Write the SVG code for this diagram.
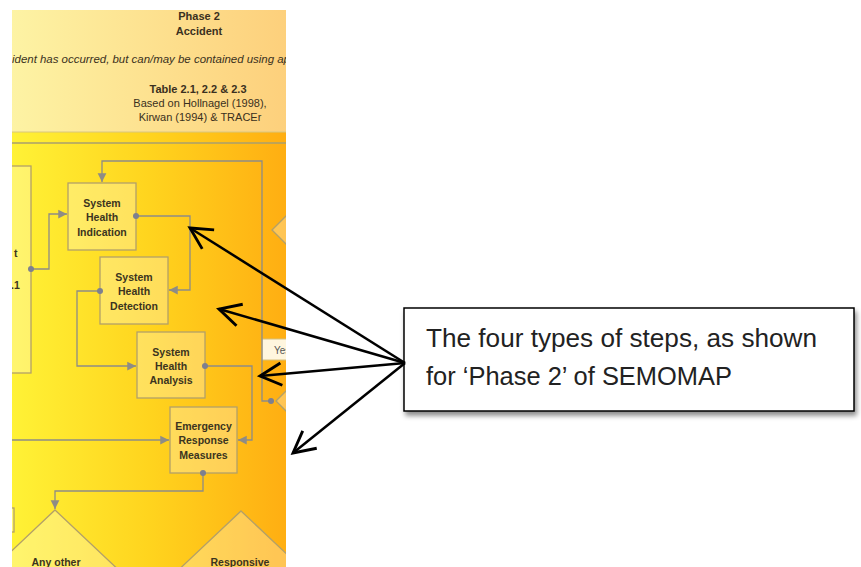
<svg xmlns="http://www.w3.org/2000/svg" width="861" height="567" viewBox="0 0 861 567">
<style>
.node rect,.node polygon{fill:#ffffff;fill-opacity:0.28;stroke:#b3a068;stroke-width:1.3}
.lbl{font-family:"Liberation Sans",Arial,sans-serif;font-weight:bold;font-size:10.5px;fill:#3b3420;text-anchor:middle}
.conn path{fill:none;stroke:#8e8c86;stroke-width:1.3}
.conn circle{fill:#7d8090}
.hdr{font-family:"Liberation Sans",Arial,sans-serif;text-anchor:middle;fill:#3a3020}
.call path{fill:none;stroke:#000;stroke-width:2.5}
.ctext{font-family:"Liberation Sans",Arial,sans-serif;font-size:25px;fill:#222}
</style>
<defs>
<linearGradient id="bodyG" gradientUnits="userSpaceOnUse" x1="12" y1="0" x2="286" y2="0">
<stop offset="0" stop-color="#fff236"/>
<stop offset="0.5" stop-color="#ffd41e"/>
<stop offset="1" stop-color="#ffae12"/>
</linearGradient>
<linearGradient id="hdrG" gradientUnits="userSpaceOnUse" x1="12" y1="0" x2="286" y2="0">
<stop offset="0" stop-color="#fdf3a4"/>
<stop offset="1" stop-color="#fdd07c"/>
</linearGradient>
<clipPath id="panel"><rect x="12" y="10" width="274" height="557"/></clipPath>
<marker id="ga" markerUnits="userSpaceOnUse" markerWidth="10" markerHeight="10" viewBox="-8 -4 8 8" refX="0" refY="0" orient="auto">
<path d="M0,0 L-7,-3.5 L-7,3.5 z" fill="#8e8c86"/>
</marker>
<marker id="ba" markerUnits="userSpaceOnUse" markerWidth="30" markerHeight="30" viewBox="-22 -13 24 26" refX="0" refY="0" orient="auto">
<path d="M-18.6,-9.7 L0,0 L-18.6,9.7" fill="none" stroke="#000" stroke-width="2.5" stroke-linejoin="miter"/>
</marker>
<filter id="sh" x="-5%" y="-10%" width="115%" height="135%">
<feDropShadow dx="2" dy="4" stdDeviation="2.5" flood-color="#000" flood-opacity="0.45"/>
</filter>
</defs>
<rect width="861" height="567" fill="#ffffff"/>
<g clip-path="url(#panel)">
<rect x="12" y="10" width="274" height="557" fill="url(#bodyG)"/>
<rect x="12" y="10" width="274" height="122" fill="url(#hdrG)"/>
<line x1="12" y1="132" x2="286" y2="132" stroke="#d8c680" stroke-width="1"/>
<line x1="12" y1="143" x2="286" y2="143" stroke="#a89f6e" stroke-width="1.3"/>
<g id="header">
<text class="hdr" x="199" y="20" font-size="11" font-weight="bold">Phase 2</text>
<text class="hdr" x="199" y="35" font-size="11" font-weight="bold">Accident</text>
<text x="12" y="63" font-family="Liberation Sans,Arial,sans-serif" font-style="italic" font-size="10.5" fill="#3a3020" textLength="278" lengthAdjust="spacingAndGlyphs">ident has  occurred, but can/may be contained using ap</text>
<text class="hdr" x="198" y="93" font-size="11" font-weight="bold">Table 2.1, 2.2 &amp; 2.3</text>
<text class="hdr" x="200" y="107" font-size="11" fill="#5a4f38">Based on Hollnagel (1998),</text>
<text class="hdr" x="200" y="121" font-size="11" fill="#5a4f38">Kirwan (1994) &amp; TRACEr</text>
</g>
<g id="left-box" class="node">
<rect x="-20" y="166" width="51" height="207"/>
<text class="lbl" x="14" y="257" style="text-anchor:start">t</text>
<text class="lbl" x="11" y="289" style="text-anchor:start">.1</text>
</g>
<g id="small-box" class="node"><rect x="-20" y="508" width="34" height="24"/></g>
<g id="diamond-top-right" class="node"><polygon points="272,230 300,202 328,230 300,258"/></g>
<g id="yes-label"><rect x="262" y="339" width="40" height="21" fill="#fff6de" stroke="#d8c07a" stroke-width="1"/>
<text x="274" y="354" font-family="Liberation Sans,Arial,sans-serif" font-size="10" fill="#555">Yes</text></g>
<g id="diamond-bottom-right" class="node"><polygon points="276,401 306,371 336,401 306,431"/></g>
<g id="indication" class="node">
<rect x="68" y="183" width="68" height="67"/>
<text class="lbl" x="102" y="207">System</text>
<text class="lbl" x="102" y="221">Health</text>
<text class="lbl" x="102" y="236">Indication</text>
</g>
<g id="detection" class="node">
<rect x="100" y="257" width="68" height="67"/>
<text class="lbl" x="134" y="281">System</text>
<text class="lbl" x="134" y="295">Health</text>
<text class="lbl" x="134" y="310">Detection</text>
</g>
<g id="analysis" class="node">
<rect x="137" y="332" width="68" height="66"/>
<text class="lbl" x="171" y="356">System</text>
<text class="lbl" x="171" y="370">Health</text>
<text class="lbl" x="171" y="384">Analysis</text>
</g>
<g id="emergency" class="node">
<rect x="170" y="407" width="67" height="66"/>
<text class="lbl" x="203.5" y="430">Emergency</text>
<text class="lbl" x="203.5" y="444">Response</text>
<text class="lbl" x="203.5" y="459">Measures</text>
</g>
<g id="any-other" class="node">
<polygon points="55,510 125,576 55,642 -15,576"/>
<text class="lbl" x="56" y="566" font-size="11">Any other</text>
</g>
<g id="responsive" class="node">
<polygon points="241,511 311,577 241,643 171,577"/>
<text class="lbl" x="240" y="566" font-size="11">Responsive</text>
</g>
<g id="connectors" class="conn">
<path d="M31,269 H49 V214 H67" marker-end="url(#ga)"/>
<path d="M136,216 H190 V290 H169" marker-end="url(#ga)"/>
<path d="M100,291 H77 V366 H136" marker-end="url(#ga)"/>
<path d="M205,366 H252 V440 H238" marker-end="url(#ga)"/>
<path d="M12,440 H169" marker-end="url(#ga)"/>
<path d="M203,473 V491 H55 V509" marker-end="url(#ga)"/>
<path d="M271,401 H262 V161 H102 V182" marker-end="url(#ga)"/>
<circle cx="31" cy="269" r="3"/>
<circle cx="136" cy="216" r="3"/>
<circle cx="100" cy="291" r="3"/>
<circle cx="205" cy="366" r="3"/>
<circle cx="203" cy="473" r="3"/>
<circle cx="271" cy="401" r="3"/>
</g>
</g>
<g id="callout">
<rect x="404" y="308" width="450" height="103" fill="#fff" stroke="#000" stroke-width="1.5" filter="url(#sh)"/>
<text class="ctext" x="426" y="347" textLength="391" lengthAdjust="spacingAndGlyphs">The four types of steps, as shown</text>
<text class="ctext" x="426" y="385" textLength="306" lengthAdjust="spacingAndGlyphs">for ‘Phase 2’ of SEMOMAP</text>
</g>
<g id="callout-arrows" class="call">
<path d="M405,363 L190,228" marker-end="url(#ba)"/>
<path d="M405,363 L219,309" marker-end="url(#ba)"/>
<path d="M405,363 L260,376" marker-end="url(#ba)"/>
<path d="M405,363 L293,453" marker-end="url(#ba)"/>
</g>
</svg>
